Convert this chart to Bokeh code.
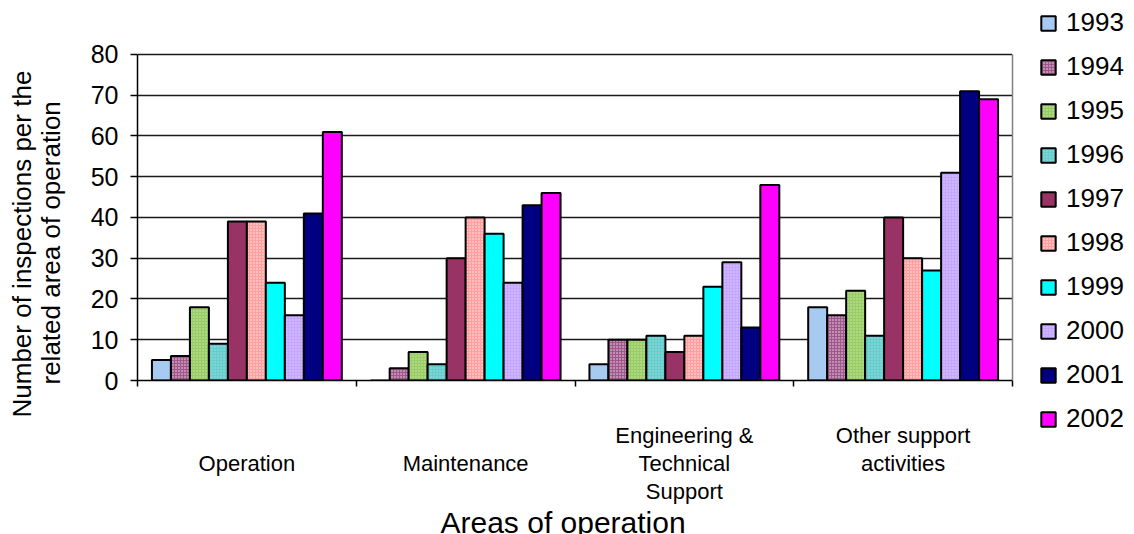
from bokeh.embed import file_html
from bokeh.layouts import row
from bokeh.models import FixedTicker, Legend, LegendItem, LinearAxis, Range1d, Title
from bokeh.plotting import figure
from bokeh.resources import INLINE

# Areas of operation (x categories)
categories = ["\nOperation", "\nMaintenance", "Engineering &\nTechnical\nSupport",
              "Other support\nactivities"]
years = ["1993", "1994", "1995", "1996", "1997", "1998", "1999", "2000", "2001", "2002"]

# Number of inspections per area, one list per year (Operation, Maintenance, Eng., Other)
v1993 = [5, 0, 4, 18]
v1994 = [6, 3, 10, 16]
v1995 = [18, 7, 10, 22]
v1996 = [9, 4, 11, 11]
v1997 = [39, 30, 7, 40]
v1998 = [39, 40, 11, 30]
v1999 = [24, 36, 23, 27]
v2000 = [16, 24, 29, 51]
v2001 = [41, 43, 13, 71]
v2002 = [61, 46, 48, 69]
series = [v1993, v1994, v1995, v1996, v1997, v1998, v1999, v2000, v2001, v2002]

y_ticks = [0, 10, 20, 30, 40, 50, 60, 70, 80]
y_title = ["Number of inspections per the", "related area of operation"]
x_title = "Areas of operation"

# fill colour, hatch pattern, hatch colour per year
styles = [
    ("#A6CAF0", None, None),
    ("#A0588C", "dot", "#FFFFFF"),
    ("#99CC66", "dot", "#DDF5BB"),
    ("#66CCCC", "dot", "#AEE8E8"),
    ("#993366", None, None),
    ("#FF9F9F", "dot", "#FFFFFF"),
    ("#00FFFF", None, None),
    ("#C4A6FF", "dot", "#E6DAFF"),
    ("#000080", None, None),
    ("#FF00FF", None, None),
]

FONT = "Liberation Sans"
n_cat = len(categories)
Y_MAX = 80
# headroom above the 80 line, so the top border can be shared with the legend column
Y_VIEW_TOP = 93.25


def bar_style(j):
    color, hatch, hcolor = styles[j]
    kw = dict(fill_color=color, line_color="black", line_width=2)
    if hatch:
        kw.update(hatch_pattern=hatch, hatch_color=hcolor, hatch_scale=3,
                  hatch_weight=1.2, hatch_alpha=0.8)
    return kw


p = figure(width=1032, height=534, output_backend="svg", toolbar_location=None,
           title=None, x_range=Range1d(0, n_cat), y_range=Range1d(0, Y_VIEW_TOP),
           min_border_left=137, min_border_right=20, min_border_top=0,
           min_border_bottom=154)
p.background_fill_color = "white"
p.border_fill_color = "white"
p.outline_line_color = None

# Grid
p.xgrid.visible = False
p.ygrid.grid_line_color = "#1a1a1a"
p.ygrid.grid_line_width = 1.5
p.ygrid.ticker = FixedTicker(ticks=y_ticks)

# Y axis
p.yaxis.ticker = FixedTicker(ticks=y_ticks)
p.yaxis.bounds = (0, Y_MAX)
p.yaxis.axis_line_color = "black"
p.yaxis.axis_line_width = 1.5
p.yaxis.major_tick_line_color = "black"
p.yaxis.major_tick_line_width = 1.5
p.yaxis.major_tick_in = 0
p.yaxis.major_tick_out = 7
p.yaxis.minor_tick_line_color = None
p.yaxis.major_label_standoff = 12
p.yaxis.major_label_text_font = FONT
p.yaxis.major_label_text_font_size = "25px"
p.yaxis.major_label_text_color = "black"

# Grey right-hand border of the plot area
right_axis = LinearAxis(bounds=(0, Y_MAX), ticker=FixedTicker(ticks=[]),
                        major_label_text_font_size="1px",
                        major_label_standoff=0,
                        axis_line_color="#808080", axis_line_width=1.5,
                        major_tick_line_color=None, major_tick_in=0,
                        major_tick_out=0, minor_tick_line_color=None)
p.add_layout(right_axis, "right")

# X axis: names at the category centres, tick marks on the boundaries
centres = [i + 0.5 for i in range(n_cat)]
p.xaxis.ticker = FixedTicker(ticks=centres, minor_ticks=list(range(n_cat + 1)))
p.xaxis.major_label_overrides = {c: name for c, name in zip(centres, categories)}
p.xaxis.major_label_text_font = FONT
p.xaxis.major_label_text_font_size = "22px"
p.xaxis.major_label_text_color = "black"
p.xaxis.major_label_text_line_height = 1.13
p.xaxis.major_label_standoff = 36
p.xaxis.axis_line_color = "black"
p.xaxis.axis_line_width = 1.5
p.xaxis.major_tick_line_color = None
p.xaxis.major_tick_in = 0
p.xaxis.major_tick_out = 0
p.xaxis.minor_tick_line_color = "black"
p.xaxis.minor_tick_line_width = 1.5
p.xaxis.minor_tick_in = 0
p.xaxis.minor_tick_out = 6

# Clustered bars
group_fill = 0.868
w = group_fill / len(years)
pad = (1 - group_fill) / 2
for j, vals in enumerate(series):
    xs = [i + pad + w * (j + 0.5) for i in range(n_cat)]
    p.vbar(x=xs, top=vals, bottom=0, width=w, **bar_style(j))

# Axis titles
p.add_layout(Title(text=x_title, align="left", offset=303, standoff=-8,
                   text_font=FONT, text_font_size="30px",
                   text_font_style="normal", text_color="black"), "below")
p.add_layout(Title(text=y_title[1], align="left", offset=-4, standoff=44,
                   text_font=FONT, text_font_size="26px",
                   text_font_style="normal", text_color="black"), "left")
p.add_layout(Title(text=y_title[0], align="left", offset=-37, standoff=-50,
                   text_font=FONT, text_font_size="26px",
                   text_font_style="normal", text_color="black"), "left")

# Legend column beside the chart; its swatch renderers are hidden
leg = figure(width=102, height=534, output_backend="svg", toolbar_location=None,
             title=None, x_axis_type=None, y_axis_type=None,
             x_range=Range1d(0, 1), y_range=Range1d(0, 1),
             min_border_left=0, min_border_right=0, min_border_top=0,
             min_border_bottom=0)
leg.outline_line_color = None
leg.background_fill_color = "white"
leg.border_fill_color = "white"
leg.xgrid.visible = False
leg.ygrid.visible = False
for fig in (p, leg):
    if "frame_align" in fig.properties():
        fig.frame_align = False

items = []
for j, yr in enumerate(years):
    r = leg.vbar(x=[0.5], top=[0.5], bottom=0, width=0.1, **bar_style(j))
    r.visible = False
    items.append(LegendItem(label=yr, renderers=[r]))
legend = Legend(items=items, location="top_left", orientation="vertical",
                glyph_width=18, glyph_height=18, label_standoff=9,
                label_height=30, spacing=13, padding=0, margin=7,
                label_text_font=FONT, label_text_font_size="26px",
                label_text_color="black", background_fill_alpha=0,
                border_line_color=None, inactive_fill_alpha=0)
leg.add_layout(legend)

layout = row(p, leg, spacing=0)
open("out.html", "w").write(file_html(layout, INLINE))
